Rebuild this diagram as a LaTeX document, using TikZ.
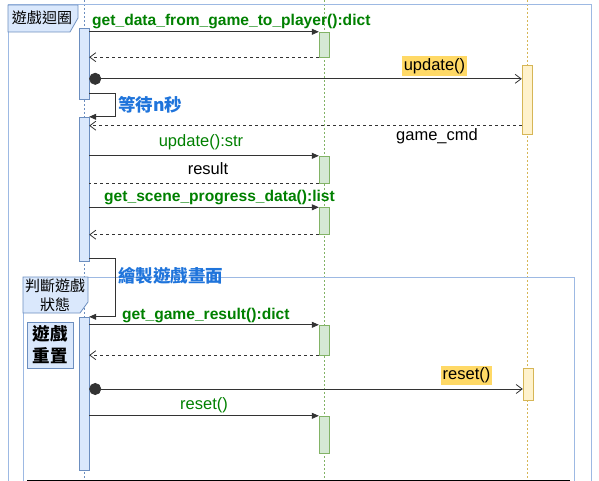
\documentclass[tikz,border=0pt]{standalone}
\usepackage{fontspec}
\setmainfont{Liberation Sans}
\newfontfamily\cjk{Noto Sans CJK TC}
\usepackage{tikz}
\usetikzlibrary{arrows.meta,positioning,calc}

\definecolor{lineblue}{HTML}{6C8EBF}
\definecolor{fillblue}{HTML}{DAE8FC}
\definecolor{linegreen}{HTML}{82B366}
\definecolor{fillgreen}{HTML}{D5E8D4}
\definecolor{lineyellow}{HTML}{D6B656}
\definecolor{fillyellow}{HTML}{FFF2CC}
\definecolor{framecol}{HTML}{9DB9E3}
\definecolor{txtgreen}{HTML}{008000}
\definecolor{txtblue}{HTML}{1F74DB}
\definecolor{hilite}{HTML}{FFD966}
\definecolor{msgcol}{HTML}{333333}
\definecolor{baseline}{HTML}{8C8C8C}

\begin{document}
\begin{tikzpicture}[x=1pt, y=-1pt,
  pbar/.style={draw=lineblue, fill=fillblue, minimum width=10pt, inner sep=0pt},
  gbar/.style={draw=linegreen, fill=fillgreen, minimum width=10pt, inner sep=0pt},
  ybar/.style={draw=lineyellow, fill=fillyellow, minimum width=10pt, inner sep=0pt},
  life/.style={dash pattern=on 2pt off 2pt, line width=0.7pt},
  call/.style={msgcol, line width=0.8pt, -{Triangle[length=7pt,width=6pt]}},
  retline/.style={msgcol, line width=0.8pt, dash pattern=on 3pt off 3pt},
  ret/.style={retline, -{Straight Barb[length=6pt,width=9pt]}},
  async/.style={msgcol, line width=0.8pt, {Circle[length=12pt]}-{Straight Barb[length=6pt,width=9pt]}},
  gbold/.style={font=\fontsize{15.6}{18}\selectfont\bfseries, text=txtgreen, inner sep=0pt},
  gtxt/.style={font=\fontsize{16.5}{19}\selectfont, text=txtgreen, inner sep=0pt},
  txt/.style={font=\fontsize{16.5}{19}\selectfont, inner sep=0pt},
  hl/.style={txt, fill=hilite, inner xsep=2pt, inner ysep=2pt},
  note/.style={font=\cjk\fontsize{17.5}{20}\selectfont\bfseries, text=txtblue, inner sep=0pt},
  frametag/.style={draw=lineblue, fill=fillblue, line width=0.8pt}
]
  \useasboundingbox (0,0) rectangle (599,481);
  \clip (0,0) rectangle (599,481);

  % lifelines
  \draw[life, lineblue]   (84,0)  -- (84,481);
  \draw[life, linegreen]  (324,0) -- (324,481);
  \draw[life, lineyellow] (527,0) -- (527,481);

  % loop frames
  \draw[framecol, line width=1pt] (8,490) -- (8,5) -- (591,5) -- (591,490);
  \draw[frametag] (8,5) -- (78,5) -- (78,18) -- (70,32) -- (8,32) -- cycle;
  \node[font=\cjk\fontsize{15}{17}\selectfont, inner sep=0pt] (looptag) at (42,18) {遊戲迴圈};

  \draw[framecol, line width=1pt] (23,490) -- (23,277) -- (574,277) -- (574,490);
  \draw[frametag] (23,277) -- (88,277) -- (88,302) -- (80,313) -- (23,313) -- cycle;
  \node[font=\cjk\fontsize{15}{19}\selectfont, inner sep=0pt, align=center] (checktag) at (55,295) {判斷遊戲\\狀態};

  \node[draw=lineblue, fill=fillblue, line width=0.8pt, minimum width=46pt, minimum height=46pt,
        inner sep=0pt, align=center, font=\cjk\fontsize{17.5}{22}\selectfont\bfseries] (resetbox) at (50,345) {遊戲\\重置};
  \draw[baseline, line width=1pt] (27,480) -- (570,480);

  % activation bars
  \node[pbar, minimum height=71pt]  (p1) at (84,63.5)  {};
  \node[pbar, minimum height=144pt] (p2) at (84,189)   {};
  \node[pbar, minimum height=153pt] (p3) at (84,393.5) {};
  \node[gbar, minimum height=25pt] (g1) at (324,44.5)  {};
  \node[gbar, minimum height=27pt] (g2) at (324,169.5) {};
  \node[gbar, minimum height=27pt] (g3) at (324,221)   {};
  \node[gbar, minimum height=30pt] (g4) at (324,340)   {};
  \node[gbar, minimum height=37pt] (g5) at (324,434.5) {};
  \node[ybar, minimum height=69pt] (y1) at (527,99.5)  {};
  \node[ybar, minimum height=32pt] (y2) at (528,384)   {};

  \coordinate (upd) at ($(y1.north west)+(0,14)$);
  \coordinate (cmd) at ($(y1.south west)+(0,-8.5)$);
  \coordinate (rst) at ($(y2.west)+(0,5)$);

  % messages
  \draw[call] (p1.east |- g1.north) -- (g1.north west);
  \draw[ret] (g1.south west) -- (p1.east |- g1.south);
  \draw[async] (p1.east |- upd) -- (upd);
  \draw[call] ($(p1.south east)+(0,-6)$) -| ($(p2.north east)+(26,0)$) -- (p2.north east);
  \draw[ret] (cmd) -- (p2.east |- cmd);
  \draw[call] (p2.east |- g2.north) -- (g2.north west);
  \draw[retline] (g2.south west) -- (p2.east |- g2.south);
  \draw[call] (p2.east |- g3.north) -- (g3.north west);
  \draw[ret] (g3.south west) -- (p2.east |- g3.south);
  \draw[call] ($(p2.south east)+(0,-3)$) -| ($(p3.north east)+(26,0)$) -- (p3.north east);
  \draw[call] (p3.east |- g4.north) -- (g4.north west);
  \draw[ret] (g4.south west) -- (p3.east |- g4.south);
  \draw[async] (p3.east |- rst) -- (rst);
  \draw[call] (p3.east |- g5.north) -- (g5.north west);

  % labels
  \node[gbold, anchor=base west] (lbl1) at (92,26) {get\_data\_from\_game\_to\_player():dict};
  \node[hl] (lbl2) at (434.5,66) {update()};
  \node[note, anchor=west] (wait) at (118,105) {等待n秒};
  \node[txt, anchor=base] (cmdlbl) at (437,141) {game\_cmd};
  \node[gtxt, anchor=base] (lbl3) at (201,147) {update():str};
  \node[txt, anchor=base] (reslbl) at (208,175) {result};
  \node[gbold, anchor=base west] (lbl4) at (104,201) {get\_scene\_progress\_data():list};
  \node[note, anchor=west] (render) at (118,276) {繪製遊戲畫面};
  \node[gbold, anchor=base west] (lbl5) at (122,319) {get\_game\_result():dict};
  \node[hl] (lbl6) at (466.5,375.5) {reset()};
  \node[gtxt, anchor=base] (lbl7) at (204,409) {reset()};
\end{tikzpicture}
\end{document}
